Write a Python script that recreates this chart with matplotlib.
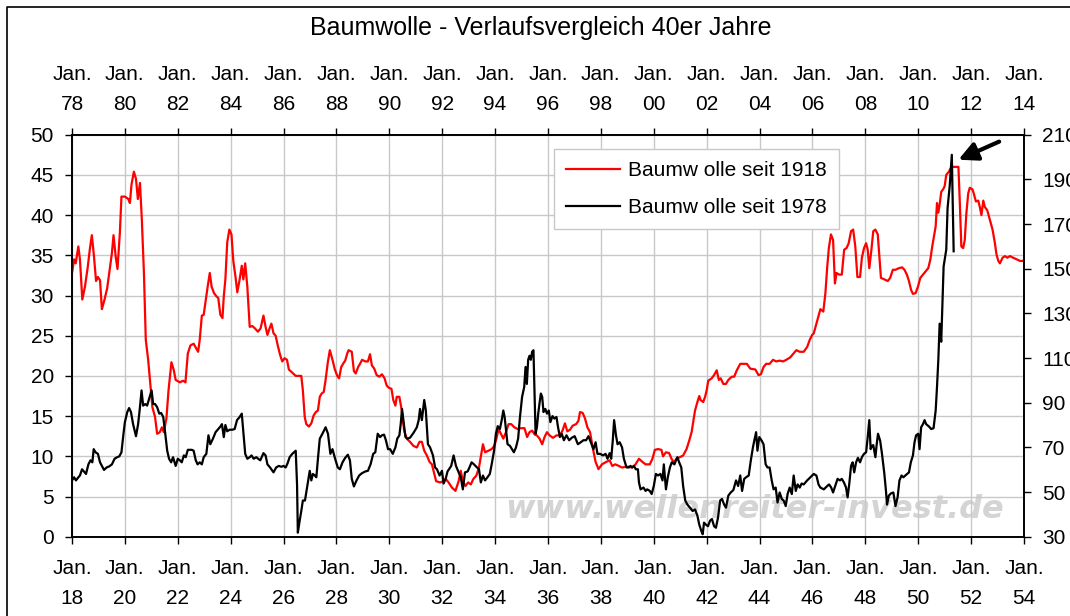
import matplotlib
matplotlib.use("Agg")
import matplotlib.pyplot as plt
from matplotlib.lines import Line2D

plt.rcParams['font.family'] = ['Liberation Sans', 'DejaVu Sans']

title = "Baumwolle - Verlaufsvergleich 40er Jahre"
label_1918 = "Baumw olle seit 1918"
label_1978 = "Baumw olle seit 1978"
watermark = "www.wellenreiter-invest.de"

# Cotton 1918-1954 (left axis, cents)
red_t = [
    1918.00, 1918.08, 1918.14, 1918.24, 1918.30, 1918.39, 1918.49, 1918.59, 1918.68, 1918.75,
    1918.83, 1918.91, 1918.98, 1919.06, 1919.13, 1919.23, 1919.33, 1919.43, 1919.51, 1919.57,
    1919.65, 1919.72, 1919.81, 1919.87, 1920.00, 1920.13, 1920.19, 1920.25, 1920.34, 1920.42,
    1920.49, 1920.57, 1920.64, 1920.72, 1920.79, 1920.88, 1920.97, 1921.04, 1921.14, 1921.22,
    1921.32, 1921.40, 1921.47, 1921.57, 1921.65, 1921.76, 1921.85, 1921.92, 1922.08, 1922.20,
    1922.29, 1922.38, 1922.48, 1922.60, 1922.70, 1922.77, 1922.83, 1922.91, 1922.98, 1923.06,
    1923.13, 1923.21, 1923.28, 1923.37, 1923.46, 1923.53, 1923.61, 1923.69, 1923.74, 1923.80,
    1923.87, 1923.95, 1924.03, 1924.10, 1924.18, 1924.25, 1924.34, 1924.42, 1924.48, 1924.55,
    1924.63, 1924.72, 1924.82, 1924.92, 1925.03, 1925.13,
    1925.24, 1925.32, 1925.39, 1925.47, 1925.54, 1925.62, 1925.70, 1925.78, 1925.87, 1925.95,
    1926.04, 1926.13, 1926.20, 1926.33, 1926.46, 1926.67, 1926.73, 1926.80, 1926.86, 1926.96,
    1927.05, 1927.14, 1927.22, 1927.30, 1927.37, 1927.44, 1927.52, 1927.59, 1927.67, 1927.75,
    1927.85, 1927.94, 1928.03, 1928.10, 1928.18, 1928.25, 1928.33, 1928.41, 1928.46, 1928.58,
    1928.66, 1928.73, 1928.82, 1928.89, 1928.97, 1929.09, 1929.19, 1929.27, 1929.34, 1929.43,
    1929.52, 1929.62, 1929.72, 1929.82, 1929.90, 1929.99, 1930.08, 1930.15, 1930.23, 1930.28,
    1930.38, 1930.47, 1930.56, 1930.66, 1930.78, 1930.91, 1931.04, 1931.14, 1931.23, 1931.32,
    1931.42, 1931.52, 1931.61, 1931.67, 1931.77, 1931.92, 1932.03, 1932.13,
    1932.24, 1932.37, 1932.50, 1932.62, 1932.70, 1932.78, 1932.88, 1932.98, 1933.08, 1933.18,
    1933.29, 1933.39, 1933.48, 1933.54, 1933.62, 1933.75, 1933.87, 1933.97, 1934.05, 1934.13,
    1934.22, 1934.31, 1934.41, 1934.51, 1934.61, 1934.73, 1934.85, 1934.98, 1935.11, 1935.21,
    1935.30, 1935.40, 1935.50, 1935.58, 1935.68, 1935.78, 1935.87, 1935.96, 1936.06, 1936.19,
    1936.32, 1936.45, 1936.55, 1936.64, 1936.73, 1936.83, 1936.93, 1937.06, 1937.15, 1937.21,
    1937.31, 1937.40, 1937.49, 1937.59, 1937.69, 1937.80, 1937.91, 1938.04, 1938.20, 1938.33,
    1938.43, 1938.54, 1938.68, 1938.80, 1938.93, 1939.06, 1939.18, 1939.31, 1939.44, 1939.57,
    1939.69,
    1939.85, 1939.95, 1940.04, 1940.16, 1940.29, 1940.35, 1940.46, 1940.58, 1940.67, 1940.76,
    1940.86, 1940.99, 1941.11, 1941.24, 1941.34, 1941.43, 1941.49, 1941.56, 1941.65, 1941.72,
    1941.77, 1941.87, 1941.94, 1942.00, 1942.06, 1942.19, 1942.28, 1942.38, 1942.46, 1942.53,
    1942.63, 1942.73, 1942.82, 1942.95, 1943.04, 1943.14, 1943.27, 1943.39, 1943.52, 1943.65,
    1943.84, 1943.96, 1944.05, 1944.15, 1944.25, 1944.38, 1944.51, 1944.63, 1944.76, 1944.89,
    1945.01, 1945.16, 1945.29, 1945.39, 1945.52, 1945.67, 1945.80, 1945.90, 1945.99, 1946.05,
    1946.15, 1946.24, 1946.30, 1946.41, 1946.49, 1946.56, 1946.62,
    1946.70, 1946.78, 1946.85, 1946.91, 1947.01, 1947.11, 1947.20, 1947.29, 1947.37, 1947.46,
    1947.54, 1947.62, 1947.70, 1947.80, 1947.87, 1947.95, 1948.03, 1948.09, 1948.15, 1948.23,
    1948.30, 1948.38, 1948.47, 1948.53, 1948.59, 1948.72, 1948.85, 1948.94, 1949.04, 1949.14,
    1949.27, 1949.39, 1949.48, 1949.57, 1949.65, 1949.73, 1949.80, 1949.90, 1949.99, 1950.08,
    1950.18, 1950.28, 1950.38, 1950.46, 1950.53, 1950.61, 1950.66, 1950.71, 1950.76, 1950.81,
    1950.87, 1950.94, 1951.00, 1951.06, 1951.16, 1951.22, 1951.32, 1951.44, 1951.52, 1951.57,
    1951.63, 1951.70, 1951.76, 1951.82, 1951.89, 1951.95, 1952.05, 1952.10, 1952.18, 1952.27,
    1952.33, 1952.39, 1952.46, 1952.52, 1952.61, 1952.71, 1952.81, 1952.90, 1952.96, 1953.03,
    1953.09, 1953.19, 1953.28, 1953.37, 1953.47, 1953.59, 1953.72, 1953.85, 1953.97, 1954.04,
]
red_v = [
    32.8, 34.5, 34.0, 36.1, 34.5, 29.5, 31.1, 33.4, 35.9, 37.5,
    34.9, 31.8, 32.3, 31.9, 28.3, 29.5, 30.9, 33.4, 35.3, 37.5,
    34.9, 33.3, 37.8, 42.3, 42.3, 42.0, 41.5, 43.8, 45.4, 44.5,
    42.0, 44.0, 39.5, 32.8, 24.5, 22.0, 18.6, 16.1, 14.9, 12.8,
    13.0, 13.6, 13.0, 14.7, 18.2, 21.7, 20.7, 19.5, 19.2, 19.4,
    19.2, 22.8, 23.8, 24.0, 23.4, 23.0, 24.5, 27.5, 27.6, 29.5,
    31.1, 32.8, 31.1, 30.3, 29.9, 29.7, 27.6, 27.2, 29.9, 32.0,
    36.6, 38.2, 37.6, 34.3, 32.4, 30.4, 32.0, 33.7, 32.0, 34.0,
    31.1, 26.1, 26.2, 25.9, 25.5, 25.9,
    27.5, 26.1, 25.1, 25.9, 26.5, 25.3, 25.0, 23.8, 22.6, 21.8,
    22.2, 22.0, 20.8, 20.4, 20.0, 20.0, 18.2, 14.9, 14.0, 13.7,
    14.1, 15.1, 15.5, 15.7, 17.4, 17.8, 18.0, 19.5, 21.6, 23.2,
    22.0, 20.8, 20.0, 19.7, 21.1, 21.5, 21.9, 22.8, 23.2, 23.0,
    20.6, 20.3, 21.1, 21.5, 22.0, 21.8, 21.8, 22.7, 21.3, 20.9,
    20.1, 19.9, 20.2, 19.7, 18.8, 18.5, 18.4, 17.0, 16.3, 17.4,
    17.4, 15.7, 13.2, 12.2, 11.8, 11.3, 11.1, 11.8, 11.8, 10.7,
    10.1, 9.3, 9.0, 8.2, 6.9, 6.75, 6.9, 7.2,
    6.75, 6.1, 5.7, 6.9, 8.2, 6.9, 6.3, 6.75, 6.5, 7.2,
    7.6, 8.6, 10.3, 11.5, 10.5, 10.7, 10.9, 11.3, 12.2, 13.4,
    12.8, 12.2, 13.0, 14.0, 14.0, 13.6, 13.4, 13.5, 13.5, 12.4,
    13.0, 13.2, 12.7, 12.6, 12.2, 11.5, 12.4, 13.0, 12.6, 12.3,
    12.6, 12.6, 13.2, 14.1, 13.1, 13.3, 13.8, 14.0, 14.4, 15.5,
    15.4, 14.7, 13.6, 13.0, 11.1, 9.3, 8.4, 9.0, 9.3, 9.5,
    8.8, 9.0, 8.8, 8.6, 8.7, 8.7, 8.6, 9.0, 9.7, 9.3,
    9.0,
    9.0, 9.7, 10.8, 10.9, 10.8, 10.0, 10.5, 10.4, 9.7, 9.25,
    9.7, 9.9, 10.1, 10.9, 11.95, 13.0, 14.25, 15.7, 16.75, 17.5,
    17.0, 16.75, 17.4, 18.2, 19.4, 19.7, 20.1, 20.7, 19.5, 19.7,
    19.0, 19.0, 19.5, 19.9, 19.9, 20.7, 21.5, 21.5, 21.5, 20.9,
    20.8, 20.1, 20.2, 21.1, 21.5, 21.5, 22.0, 21.8, 21.9, 21.8,
    22.0, 22.3, 22.8, 23.2, 23.0, 23.0, 23.6, 24.5, 25.1, 25.3,
    26.5, 27.6, 28.3, 28.0, 30.3, 33.6, 35.9,
    37.6, 36.9, 31.5, 32.8, 32.6, 32.6, 35.7, 35.9, 36.5, 38.0,
    38.2, 36.1, 32.3, 32.3, 34.7, 35.9, 36.5, 35.7, 33.4, 35.7,
    38.0, 38.2, 37.6, 34.9, 32.2, 32.0, 31.8, 32.2, 33.2, 33.2,
    33.4, 33.5, 33.2, 32.6, 31.8, 30.7, 30.2, 30.3, 31.1, 32.2,
    32.6, 33.0, 33.4, 34.5, 36.1, 37.6, 38.6, 41.5, 40.3, 41.3,
    42.9, 43.2, 43.6, 45.0, 45.4, 45.8, 46.0, 46.0, 46.0, 41.8,
    36.1, 35.9, 36.9, 40.2, 42.7, 43.4, 43.2, 42.7, 41.7, 41.8,
    41.0, 40.0, 41.8, 41.0, 40.6, 39.4, 38.2, 36.5, 35.1, 34.3,
    34.0, 34.7, 34.9, 34.7, 34.9, 34.7, 34.5, 34.3, 34.3, 34.7,
]

# Cotton 1978-2011 (right axis, cents)
black_t = [
    1978.00, 1978.08, 1978.15, 1978.24, 1978.30, 1978.38, 1978.45, 1978.53, 1978.62, 1978.70,
    1978.77, 1978.82, 1978.89, 1978.98, 1979.06, 1979.13, 1979.21, 1979.31, 1979.41, 1979.51,
    1979.61, 1979.71, 1979.79, 1979.87, 1979.94, 1980.00, 1980.09, 1980.16, 1980.23, 1980.31,
    1980.42, 1980.50, 1980.57, 1980.63, 1980.69, 1980.77, 1980.84, 1980.92, 1981.01, 1981.07,
    1981.14, 1981.22, 1981.30, 1981.37, 1981.45, 1981.52, 1981.60, 1981.67, 1981.75, 1981.82,
    1981.92, 1982.00, 1982.08, 1982.15, 1982.23, 1982.30, 1982.38, 1982.45, 1982.53, 1982.60,
    1982.68, 1982.75, 1982.83, 1982.91, 1982.98, 1983.08, 1983.16, 1983.23, 1983.33, 1983.43,
    1983.53, 1983.61, 1983.67, 1983.74, 1983.80, 1983.87, 1983.96, 1984.06, 1984.15, 1984.24,
    1984.34, 1984.42, 1984.49, 1984.55, 1984.63, 1984.72, 1984.79, 1984.87, 1984.97, 1985.04,
    1985.12, 1985.24, 1985.32, 1985.39, 1985.49, 1985.62, 1985.72, 1985.82, 1985.92, 1986.00,
    1986.08, 1986.15, 1986.23, 1986.33, 1986.46, 1986.51, 1986.54, 1986.61, 1986.67, 1986.73,
    1986.81, 1986.89, 1986.99, 1987.05, 1987.11, 1987.18, 1987.24, 1987.30, 1987.37, 1987.47,
    1987.59, 1987.68, 1987.77, 1987.85, 1987.95, 1988.05, 1988.13, 1988.23, 1988.33, 1988.43,
    1988.51, 1988.58, 1988.66, 1988.76, 1988.86, 1988.96, 1989.09, 1989.19, 1989.29, 1989.39,
    1989.47, 1989.56, 1989.65, 1989.72, 1989.80, 1989.87, 1989.95, 1990.03, 1990.13, 1990.23,
    1990.30, 1990.38, 1990.43, 1990.48, 1990.53, 1990.61, 1990.68, 1990.78, 1990.91, 1991.04,
    1991.11, 1991.16, 1991.23, 1991.32, 1991.38, 1991.46, 1991.54, 1991.65, 1991.73, 1991.80,
    1991.90, 1991.99, 1992.05, 1992.13, 1992.20,
    1992.34, 1992.43, 1992.52, 1992.62, 1992.70, 1992.78, 1992.86, 1992.96, 1993.03, 1993.11,
    1993.20, 1993.29, 1993.39, 1993.46, 1993.54, 1993.62, 1993.71, 1993.80, 1993.87, 1993.96,
    1994.03, 1994.10, 1994.18, 1994.25, 1994.31, 1994.36, 1994.41, 1994.47, 1994.56, 1994.64,
    1994.71, 1994.79, 1994.87, 1994.94, 1995.02, 1995.10, 1995.15, 1995.20, 1995.25, 1995.30,
    1995.35, 1995.40, 1995.45, 1995.49, 1995.53, 1995.58, 1995.63, 1995.68, 1995.73, 1995.78,
    1995.83, 1995.90, 1995.96, 1996.03, 1996.09, 1996.17, 1996.24, 1996.32, 1996.38, 1996.45,
    1996.52, 1996.60, 1996.70, 1996.80, 1996.90, 1997.01, 1997.13, 1997.24, 1997.34, 1997.44,
    1997.53, 1997.62, 1997.72, 1997.80, 1997.87, 1997.97, 1998.08, 1998.18, 1998.25, 1998.33,
    1998.39, 1998.45, 1998.50, 1998.57, 1998.63, 1998.71, 1998.80, 1998.87, 1998.97, 1999.06,
    1999.12, 1999.18, 1999.25, 1999.32, 1999.40, 1999.44, 1999.50, 1999.61, 1999.69,
    1999.75, 1999.85, 1999.92, 2000.00, 2000.08, 2000.16, 2000.25, 2000.33, 2000.38, 2000.46,
    2000.53, 2000.61, 2000.68, 2000.78, 2000.89, 2000.96, 2001.04, 2001.11, 2001.19, 2001.27,
    2001.37, 2001.47, 2001.56, 2001.65, 2001.72, 2001.80, 2001.85, 2001.90, 2001.97, 2002.05,
    2002.13, 2002.20, 2002.28, 2002.35, 2002.43, 2002.51, 2002.58, 2002.66, 2002.73, 2002.82,
    2002.91, 2003.01, 2003.11, 2003.19, 2003.27, 2003.34, 2003.42, 2003.49, 2003.59, 2003.67,
    2003.75, 2003.80, 2003.87, 2003.92, 2003.99, 2004.08, 2004.15, 2004.23, 2004.30, 2004.38,
    2004.46, 2004.53, 2004.61, 2004.68, 2004.76, 2004.84, 2004.91, 2004.99, 2005.06, 2005.14,
    2005.22, 2005.29, 2005.37, 2005.44, 2005.52, 2005.59, 2005.67, 2005.80, 2005.92, 2006.05,
    2006.15, 2006.23, 2006.30, 2006.43, 2006.56,
    2006.63, 2006.71, 2006.78, 2006.86, 2006.95, 2007.04, 2007.11, 2007.19, 2007.27, 2007.33,
    2007.39, 2007.46, 2007.52, 2007.58, 2007.65, 2007.72, 2007.80, 2007.87, 2007.95, 2008.03,
    2008.09, 2008.15, 2008.20, 2008.25, 2008.30, 2008.38, 2008.43, 2008.48, 2008.56, 2008.63,
    2008.72, 2008.78, 2008.82, 2008.89, 2008.97, 2009.06, 2009.14, 2009.22, 2009.29, 2009.37,
    2009.44, 2009.54, 2009.65, 2009.72, 2009.80, 2009.86, 2009.92, 2010.00, 2010.05, 2010.11,
    2010.18, 2010.24, 2010.30, 2010.41, 2010.49, 2010.58, 2010.66, 2010.71, 2010.76, 2010.81,
    2010.87, 2010.91, 2010.96, 2011.01, 2011.06, 2011.11, 2011.19, 2011.27, 2011.34,
]
black_v = [
    55.2, 56.6, 55.2, 56.6, 57.4, 60.2, 59.2, 58.1, 62.4, 64.2,
    63.3, 69.2, 67.8, 67.1, 63.3, 61.7, 59.9, 61.0, 61.5, 62.4,
    64.9, 65.6, 66.0, 67.8, 75.4, 81.3, 85.8, 87.6, 85.8, 80.4,
    75.0, 80.4, 88.0, 95.5, 88.7, 89.4, 88.7, 91.9, 95.5, 89.4,
    89.4, 88.0, 85.1, 85.4, 83.6, 76.8, 68.5, 64.9, 63.3, 65.6,
    61.7, 64.9, 64.2, 63.3, 66.4, 65.6, 68.9, 68.9, 68.9, 68.5,
    64.2, 62.4, 63.3, 62.4, 65.6, 67.1, 75.4, 71.4, 73.9, 76.8,
    78.2, 79.3, 80.4, 74.6, 80.0, 77.2, 77.9, 77.9, 78.2, 82.2,
    83.6, 85.1, 75.4, 67.1, 64.9, 65.6, 66.4, 64.9, 65.6, 64.9,
    64.2, 67.4, 66.4, 62.4, 61.0, 58.8, 61.0, 61.7, 61.3, 61.7,
    61.0, 62.8, 65.6, 67.1, 68.5, 53.4, 31.8, 37.2, 41.5, 46.2,
    46.2, 52.0, 59.5, 55.2, 58.1, 57.4, 56.6, 64.9, 73.9, 76.1,
    79.0, 76.1, 67.1, 69.2, 64.9, 61.0, 60.2, 63.3, 65.3, 66.7,
    64.2, 55.9, 52.5, 55.2, 57.4, 58.4, 59.2, 59.5, 62.4, 67.1,
    67.8, 76.1, 74.6, 75.4, 75.7, 73.2, 69.2, 69.2, 67.1, 70.0,
    73.9, 75.4, 80.4, 87.2, 82.2, 74.6, 73.9, 74.3, 76.4, 79.0,
    82.2, 87.2, 82.2, 91.2, 86.5, 71.4, 70.0, 66.4, 61.0, 60.2,
    57.4, 59.5, 53.8, 55.9, 59.2,
    61.7, 66.4, 61.7, 58.8, 56.6, 51.2, 58.8, 59.2, 61.0, 63.3,
    62.4, 61.3, 60.2, 54.3, 57.4, 55.2, 56.6, 58.1, 62.4, 68.5,
    76.1, 79.5, 78.2, 82.2, 86.5, 83.6, 77.9, 71.4, 70.7, 69.2,
    67.8, 70.0, 73.9, 83.6, 92.6, 97.0, 106.0, 98.4, 109.2, 111.0,
    109.2, 112.8, 113.5, 94.1, 76.1, 79.0, 85.1, 89.8, 94.1, 92.6,
    85.8, 87.2, 85.1, 86.5, 81.3, 84.0, 82.9, 83.6, 79.0, 74.6,
    76.1, 73.2, 75.4, 73.2, 74.3, 75.0, 71.4, 72.3, 73.2, 73.2,
    75.0, 72.3, 69.2, 72.3, 67.1, 67.1, 66.4, 67.1, 64.9, 67.4,
    64.9, 73.2, 82.2, 75.4, 71.4, 72.3, 70.0, 64.9, 61.0, 61.0,
    61.7, 61.0, 61.7, 60.2, 60.2, 54.3, 51.2, 52.0, 50.5,
    51.2, 50.5, 49.1, 52.7, 58.1, 57.4, 58.1, 55.2, 62.4, 51.2,
    56.6, 61.0, 63.3, 62.4, 65.6, 63.3, 61.0, 52.7, 46.2, 44.4,
    43.0, 41.5, 42.2, 39.4, 35.4, 32.5, 31.1, 36.3, 35.4, 34.7,
    37.2, 37.9, 34.7, 34.0, 38.6, 46.2, 46.9, 44.4, 43.0, 48.4,
    49.8, 50.9, 55.2, 52.7, 57.4, 50.5, 55.9, 56.6, 57.4, 64.2,
    70.0, 73.0, 76.8, 68.5, 74.6, 73.0, 71.4, 62.4, 61.0, 61.0,
    55.2, 51.2, 52.0, 45.3, 49.8, 46.9, 46.2, 43.7, 49.1, 52.0,
    49.1, 57.4, 50.5, 53.4, 52.0, 53.8, 53.4, 55.2, 56.6, 58.1,
    57.4, 53.4, 52.0, 51.2, 52.7,
    53.4, 52.0, 49.8, 52.7, 55.9, 55.2, 55.9, 54.3, 52.0, 47.6,
    53.4, 61.7, 63.3, 58.8, 63.3, 65.3, 63.3, 65.6, 67.1, 67.8,
    74.6, 82.2, 69.2, 70.7, 71.0, 65.6, 71.4, 76.1, 73.0, 67.1,
    58.1, 50.5, 44.4, 48.4, 49.4, 49.8, 43.7, 47.6, 55.2, 57.4,
    56.6, 57.7, 58.8, 63.3, 66.4, 72.3, 75.4, 76.1, 69.2, 79.0,
    80.4, 82.2, 80.4, 79.3, 78.2, 78.6, 86.5, 97.0, 109.2, 125.4,
    117.3, 133.0, 151.0, 154.9, 158.5, 177.2, 187.0, 201.0, 157.8,
]

bottom_years = list(range(1918, 1955, 2))
top_years = list(range(1978, 2015, 2))
left_ticks = list(range(0, 51, 5))
right_ticks = list(range(30, 211, 20))
year_shift = 60


def main():
    W, H = 1070, 616
    fig = plt.figure(figsize=(W / 100, H / 100), dpi=100)
    ax = fig.add_axes([72 / W, 1 - 536.7 / H, 952 / W, 402 / H])
    ax2 = ax.twinx()

    # outer chart frame (left and top edge visible)
    fig.add_artist(Line2D([7 / W, 7 / W, 1.0], [0, 1 - 7 / H, 1 - 7 / H],
                          transform=fig.transFigure, color="black", lw=1.2))

    ax.text(0.717, 0.047, watermark, transform=ax.transAxes, ha="center",
            va="baseline", fontsize=23, fontweight="bold", style="italic",
            family="DejaVu Sans", color="#d4d4d4", zorder=0)

    red_line, = ax.plot(red_t, red_v, color="#ff0000", lw=1.6, zorder=3)
    black_x = [t - year_shift for t in black_t]
    black_line, = ax2.plot(black_x, black_v, color="black", lw=1.6, zorder=3)

    ax.set_xlim(1918, 1954)
    ax.set_ylim(0, 50)
    ax2.set_ylim(30, 210)

    ax.set_xticks(bottom_years)
    ax.set_xticklabels([f"Jan.\n{y % 100:02d}" for y in bottom_years], linespacing=1.75)
    ax.set_yticks(left_ticks)
    ax2.set_yticks(right_ticks)

    top = ax.secondary_xaxis("top", functions=(lambda x: x + year_shift,
                                               lambda x: x - year_shift))
    top.set_xticks(top_years)
    top.set_xticklabels([f"Jan.\n{y % 100:02d}" for y in top_years], linespacing=1.75)
    top.tick_params(axis="x", direction="out", length=5, width=1, pad=10, labelsize=15)
    top.spines["top"].set_linewidth(1.2)

    ax.grid(True, color="#c8c8c8", lw=1)
    ax.set_axisbelow(True)
    ax.tick_params(axis="x", direction="out", length=5, width=1, pad=11, labelsize=15)
    ax.tick_params(axis="y", direction="out", length=5, width=1, pad=8, labelsize=15)
    ax2.tick_params(axis="y", direction="out", length=5, width=1, pad=8, labelsize=15)
    for a in (ax, ax2):
        for s in a.spines.values():
            s.set_linewidth(1.2)

    fig.text(541 / W, 1 - 28 / H, title, ha="center", va="center", fontsize=18)

    leg = ax2.legend([red_line, black_line], [label_1918, label_1978],
                     loc="upper left", bbox_to_anchor=(0.506, 0.965),
                     fontsize=15, handlelength=2.6, labelspacing=0.85,
                     borderpad=0.6, handletextpad=0.35, borderaxespad=0,
                     fancybox=False, framealpha=1, edgecolor="#c8c8c8")
    leg.get_frame().set_linewidth(1)

    ax2.annotate("", xy=(1951.52, 198.8), xytext=(1953.06, 206.9),
                 arrowprops=dict(arrowstyle="-|>", color="black", lw=3,
                                 mutation_scale=28, shrinkA=0, shrinkB=0),
                 annotation_clip=False, zorder=5)

    fig.savefig("out.png", dpi=100)


if __name__ == "__main__":
    main()
